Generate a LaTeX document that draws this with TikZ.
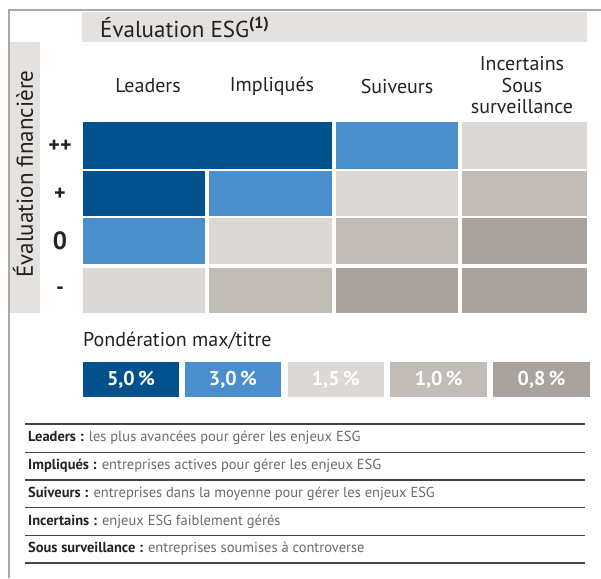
\documentclass[tikz,border=0pt]{standalone}
\usepackage{fontspec}
\setmainfont{PT Sans}
\usetikzlibrary{positioning}

\definecolor{esgdark}{HTML}{01518C}
\definecolor{esgmid}{HTML}{4A8ECB}
\definecolor{esglight}{HTML}{DBD8D5}
\definecolor{esggray}{HTML}{C1BCB6}
\definecolor{esgdeep}{HTML}{AAA29C}
\definecolor{esgband}{HTML}{E4E1DE}
\definecolor{esgframe}{HTML}{ABA7A3}
\definecolor{esgtext}{HTML}{222222}
\definecolor{esgdesc}{HTML}{6A6A6A}

\tikzset{
  colhead/.style={font=\fontsize{20}{21.5}\selectfont, align=center, text=esgtext},
  rowhead/.style={font=\bfseries\fontsize{22}{24}\selectfont, text=esgtext},
  pctbox/.style={minimum width=96.5pt, minimum height=35pt, inner sep=0pt,
    font=\bfseries\fontsize{20}{22}\selectfont, text=white},
  legline/.style={draw=esgtext!85, line width=1.6pt},
  legtext/.style={anchor=west, inner sep=0pt, font=\fontsize{14.5}{17}\selectfont, text=esgdesc}
}

\begin{document}
\begin{tikzpicture}[x=1pt,y=-1pt]
\useasboundingbox (0,0) rectangle (601,578);
% frame and grey bands
\draw[esgframe, line width=1.3pt] (9,578) -- (9,10) -- (601,10);
\fill[esgband] (82,12) rectangle (587,42);
\fill[esgband] (9.7,42) rectangle (40,313);
\node[anchor=west, inner sep=0pt, text=esgtext, font=\fontsize{23}{25}\selectfont]
  (esg) at (100,27) {Évaluation ESG\textsuperscript{\bfseries(1)}};
\node[rotate=90, inner sep=0pt, text=esgtext, font=\fontsize{23}{25}\selectfont]
  (fin) at (23,174) {Évaluation financière};

% column heads
\node[colhead] (lead) at (148,86) {Leaders};
\node[colhead] (impl) at (272,86) {Impliqués};
\node[colhead] (suiv) at (397,86) {Suiveurs};
\node[colhead, text depth=0pt] (ince) at (522,85) {Incertains\\Sous\\surveillance};

% row heads
\node[rowhead] (pp) at (60,146) {++};
\node[rowhead] (p) at (60,194) {+};
\node[rowhead, font=\bfseries\fontsize{25}{27}\selectfont] (z) at (60,241) {0};
\node[rowhead] (m) at (60,291) {-};

% matrix cells
\foreach \xa/\ya/\xb/\yb/\c in {
  83/122/332/169/esgdark, 336/122/458/169/esgmid, 462/122/587/169/esglight,
  83/171/205/216/esgdark, 209/171/332/216/esgmid, 336/171/458/216/esglight, 462/171/587/216/esggray,
  83/218/205/264/esgmid, 209/218/332/264/esglight, 336/218/458/264/esggray, 462/218/587/264/esgdeep,
  83/268/205/313/esglight, 209/268/332/313/esggray, 336/268/458/313/esgdeep, 462/268/587/313/esgdeep}
  \fill[\c] (\xa,\ya) rectangle (\xb,\yb);

% weights
\node[anchor=west, inner sep=0pt, text=esgtext, font=\fontsize{20}{22}\selectfont]
  (pond) at (83,341) {Pondération max/titre};
\node[pctbox, fill=esgdark] (w1) at (131,379.5) {5,0\,\%};
\node[pctbox, fill=esgmid, right=5pt of w1] (w2) {3,0\,\%};
\node[pctbox, fill=esglight, right=6pt of w2] (w3) {1,5\,\%};
\node[pctbox, fill=esggray, right=6pt of w3] (w4) {1,0\,\%};
\node[pctbox, fill=esgdeep, right=6pt of w4] (w5) {0,8\,\%};

% legend
\foreach \y in {424,452.5,480,507.5,535.5,563}
  \draw[legline] (25,\y) -- (585,\y);
\node[legtext] (l1) at (28,438) {\textcolor{esgtext}{\bfseries Leaders :} les plus avancées pour gérer les enjeux ESG};
\node[legtext] (l2) at (28,466) {\textcolor{esgtext}{\bfseries Impliqués :} entreprises actives pour gérer les enjeux ESG};
\node[legtext] (l3) at (28,494) {\textcolor{esgtext}{\bfseries Suiveurs :} entreprises dans la moyenne pour gérer les enjeux ESG};
\node[legtext] (l4) at (28,521.5) {\textcolor{esgtext}{\bfseries Incertains :} enjeux ESG faiblement gérés};
\node[legtext] (l5) at (28,549) {\textcolor{esgtext}{\bfseries Sous surveillance :} entreprises soumises à controverse};
\end{tikzpicture}
\end{document}
